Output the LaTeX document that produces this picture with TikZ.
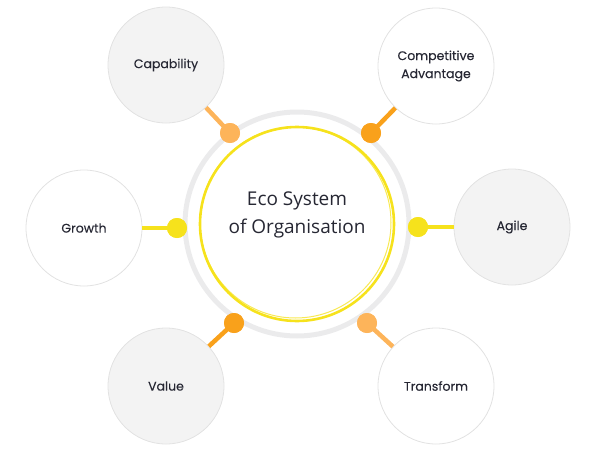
\documentclass[tikz,border=0pt]{standalone}
\usepackage{fontspec}
\setmainfont{Open Sans}
\newfontfamily\satfont[FakeBold=0.15]{Poppins}
\definecolor{ringgray}{HTML}{EBEBEC}
\definecolor{ecoyellow}{HTML}{F6E21C}
\definecolor{lightorange}{HTML}{FDB45A}
\definecolor{darkorange}{HTML}{F9A11B}
\definecolor{satgray}{HTML}{F3F3F3}
\definecolor{satborder}{HTML}{E2E2E2}
\definecolor{txt}{HTML}{262733}
\begin{document}
\begin{tikzpicture}[x=1pt,y=-1pt,
  sat/.style={circle,draw=satborder,line width=0.8pt,minimum size=116pt,inner sep=0pt,text=txt,font=\satfont\fontsize{12.5}{18}\selectfont,align=center},
  satg/.style={sat,fill=satgray},
  satw/.style={sat,fill=white},
  dotnode/.style={circle,minimum size=20pt,inner sep=0pt},
  conn/.style={line width=4.5pt}]
\useasboundingbox (0,0) rectangle (594,455);
% rings
\draw[ringgray,line width=5pt] (297,224) circle[radius=112];
\draw[ecoyellow!75,line width=1pt] (295.5,222.5) circle[radius=95.5];
\draw[ecoyellow,line width=2.6pt] (297,224) circle[radius=97];
\node[text=txt,font=\fontsize{19}{28}\selectfont,align=center] (eco) at (297,215) {Eco System\\of Organisation};
% satellites
\node[satg] (cap) at (166,65) {Capability};
\node[satw] (comp) at (436,66) {Competitive\\Advantage};
\node[satw] (grow) at (84,228) {Growth};
\node[satg] (agile) at (512,227) {Agile};
\node[satg] (val) at (166,386) {Value};
\node[satw] (trans) at (436,386) {Transform};
% dots
\node[dotnode,fill=lightorange] (capdot) at (230,133) {};
\node[dotnode,fill=darkorange] (compdot) at (371,133) {};
\node[dotnode,fill=ecoyellow] (growdot) at (177,228) {};
\node[dotnode,fill=ecoyellow] (agiledot) at (418,227) {};
\node[dotnode,fill=darkorange] (valdot) at (234,323) {};
\node[dotnode,fill=lightorange] (transdot) at (367,323) {};
% connectors
\draw[conn,lightorange] (capdot.center) -- (cap);
\draw[conn,darkorange] (compdot.center) -- (comp);
\draw[conn,ecoyellow] (growdot.center) -- (grow);
\draw[conn,ecoyellow] (agiledot.center) -- (agile);
\draw[conn,darkorange] (valdot.center) -- (val);
\draw[conn,lightorange] (transdot.center) -- (trans);
% redraw dots on top of connectors
\fill[lightorange] (capdot) circle[radius=10];
\fill[darkorange] (compdot) circle[radius=10];
\fill[ecoyellow] (growdot) circle[radius=10];
\fill[ecoyellow] (agiledot) circle[radius=10];
\fill[darkorange] (valdot) circle[radius=10];
\fill[lightorange] (transdot) circle[radius=10];
\end{tikzpicture}
\end{document}
